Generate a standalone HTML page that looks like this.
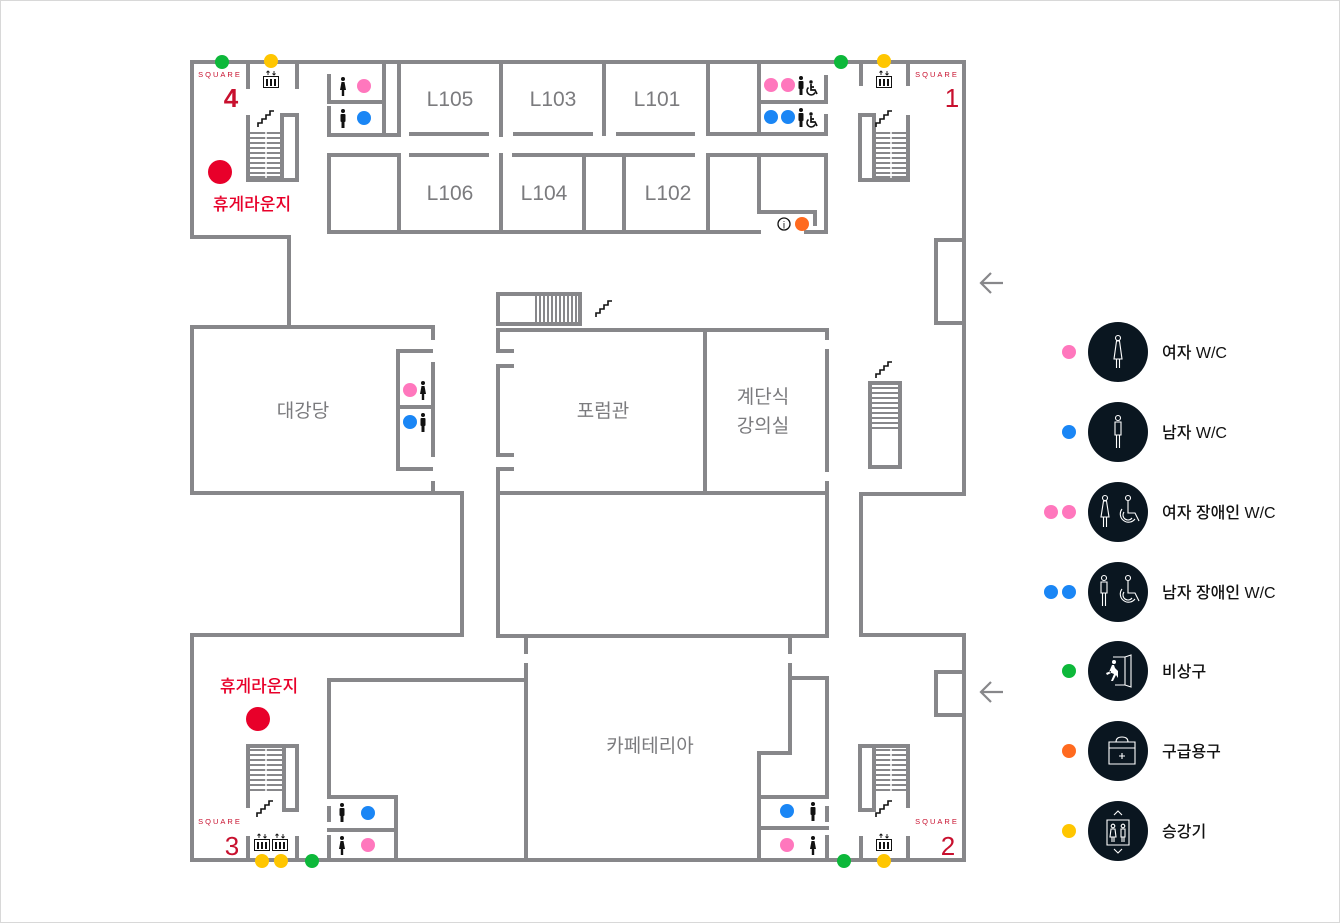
<!DOCTYPE html>
<html><head><meta charset="utf-8"><style>
html,body{margin:0;padding:0;background:#fff;}
svg{display:block;}
text{font-family:"Liberation Sans","Noto Sans CJK KR",sans-serif;}
</style></head><body>
<svg width="1340" height="923" viewBox="0 0 1340 923" xmlns="http://www.w3.org/2000/svg">
<defs>
<g id="stairicon"><path d="M0,17 V13 H4 V9 H8 V5 H12 V1 H16" fill="none" stroke="#111" stroke-width="1.6"/></g>
<g id="elev"><rect x="0.5" y="6.5" width="15" height="11" fill="#fff" stroke="#111" stroke-width="1"/>
<rect x="3" y="9" width="2" height="7" fill="#111"/><rect x="7" y="9" width="2" height="7" fill="#111"/><rect x="11" y="9" width="2" height="7" fill="#111"/>
<path d="M5,5 V1 M3.5,2.5 L5,1 L6.5,2.5 M11,1 V5 M9.5,3.5 L11,5 L12.5,3.5" fill="none" stroke="#111" stroke-width="0.9"/></g>
<g id="man"><circle cx="3" cy="2" r="2" fill="#111"/><rect x="0.5" y="5" width="5" height="8" rx="1" fill="#111"/><rect x="1.5" y="12" width="3" height="7" fill="#111"/></g>
<g id="woman"><circle cx="3" cy="2" r="2" fill="#111"/><path d="M1.5,5 H4.5 L6,13 H0 Z" fill="#111"/><rect x="1.8" y="12" width="2.4" height="7" fill="#111"/></g>
<g id="wheel"><circle cx="6" cy="2" r="1.7" fill="#111"/><path d="M6,4 V10 H10 L12,14 M6,7 H9" fill="none" stroke="#111" stroke-width="1.7"/><path d="M3.5,7.5 A4.2,4.2 0 1 0 10,12.5" fill="none" stroke="#111" stroke-width="1.5"/></g>
</defs>
<rect x="0.5" y="0.5" width="1339" height="922" fill="#fff" stroke="#d8d8d8"/>

<g fill="none" stroke="#87878a" stroke-width="4" stroke-linecap="square">
<path d="M192,62 H964 M192,62 V237 H289 V327 M192,327 H433 V338 M192,327 V493 H462 V635 H192 V860 H964 V635 H861 V494 H964 V62"/>
<path d="M964,240 H936 V323 H964 M964,672 H936 V715 H964"/>
<path d="M398,351 H431 M398,351 V469 H431 M398,407 H431 M433,364 V455 M433,483 V493"/>
<path d="M498,330 H827 V338 M827,351 V470 M827,483 V636 H498 V469 H512 M512,351 H498 V330 M512,366 H498 V455 H512 M705,330 V493 M498,493 H827"/>
<path d="M526,636 V652 M526,665 V860 M790,636 V652 M790,665 V678 H827 V797 H759 M790,678 V753 H759 V860 M759,828 H827 M827,808 V820 M827,837 V860"/>
<path d="M329,797 V680 H526 M329,797 H396 V860 M329,830 H396 M329,808 V820 M329,837 V860"/>
<path d="M248,62 V87 M297,62 V87 M861,62 V84 M908,62 V84 M248,838 V860 M297,838 V860 M861,838 V860 M908,838 V860"/>
<path d="M248,117 V180 H297 V115 H282 V180"/>
<path d="M908,117 V180 H860 V115 H874 V180"/>
<path d="M248,806 V746 H297 V810 H284 V746 M248,746 H297"/>
<path d="M908,806 V746 H860 V810 H874 V746"/>
<path d="M329,76 V102 H384 M329,108 V135 H399 M384,62 V135 M399,62 V135"/>
<path d="M411,134 H487 M501,62 V135 M515,134 H591 M604,62 V134 M618,134 H693 M708,62 V134 H826 M759,62 V134 M759,102 H826 M826,77 V102 M826,116 V134"/>
<path d="M329,155 H399 V232 M329,155 V232 H759 M411,155 H487 M501,155 V232 M514,155 H693 M584,155 V232 M624,155 V232 M708,155 H826 V232 H806 M708,155 V232 M759,155 V212 H815 V224"/>
<path d="M498,294 H580 V324 H498 Z M870,467 V383 H900 V467 Z"/>
</g>
<g stroke="#87878a" stroke-width="2">
<path d="M250,133 H282 M250,138 H282 M250,143 H282 M250,148 H282 M250,153 H282 M250,158 H282 M250,163 H282 M250,168 H282 M250,173 H282 M250,177 H282"/>
<path d="M876,133 H906 M876,138 H906 M876,143 H906 M876,148 H906 M876,153 H906 M876,158 H906 M876,163 H906 M876,168 H906 M876,173 H906 M876,177 H906"/>
<path d="M250,750 H282 M250,755 H282 M250,760 H282 M250,765 H282 M250,770 H282 M250,775 H282 M250,780 H282 M250,785 H282 M250,790 H282"/>
<path d="M876,750 H906 M876,755 H906 M876,760 H906 M876,765 H906 M876,770 H906 M876,775 H906 M876,780 H906 M876,785 H906 M876,790 H906"/>
<path d="M536,296 V322 M540,296 V322 M544,296 V322 M548,296 V322 M552,296 V322 M556,296 V322 M560,296 V322 M564,296 V322 M568,296 V322 M572,296 V322 M576,296 V322"/>
<path d="M872,388 H898 M872,393 H898 M872,398 H898 M872,403 H898 M872,408 H898 M872,413 H898 M872,418 H898 M872,423 H898 M872,428 H898"/>
</g>
<g stroke="#fff" stroke-width="1.5"><path d="M266,131 V178 M891,131 V178 M266,748 V792 M891,748 V792"/></g>

<use href="#stairicon" x="258" y="110"/><use href="#stairicon" x="876" y="110"/>
<use href="#stairicon" x="596" y="300"/><use href="#stairicon" x="876" y="361"/>
<use href="#stairicon" x="257" y="800"/><use href="#stairicon" x="876" y="800"/>
<use href="#elev" x="263" y="70"/><use href="#elev" x="876" y="70"/>
<use href="#elev" x="254" y="833"/><use href="#elev" x="272" y="833"/><use href="#elev" x="876" y="833"/>

<use href="#woman" x="340" y="77"/><circle cx="364" cy="86" r="7" fill="#ff77bd"/>
<use href="#man" x="340" y="109"/><circle cx="364" cy="118" r="7" fill="#1a86f5"/>
<circle cx="771" cy="85" r="7" fill="#ff77bd"/><circle cx="788" cy="85" r="7" fill="#ff77bd"/><use href="#man" x="798" y="76"/><use href="#wheel" x="805" y="80"/>
<circle cx="771" cy="117" r="7" fill="#1a86f5"/><circle cx="788" cy="117" r="7" fill="#1a86f5"/><use href="#man" x="798" y="108"/><use href="#wheel" x="805" y="112"/>
<circle cx="410" cy="390" r="7" fill="#ff77bd"/><use href="#woman" x="420" y="381"/>
<circle cx="410" cy="422" r="7" fill="#1a86f5"/><use href="#man" x="420" y="413"/>
<use href="#man" x="339" y="803"/><circle cx="368" cy="813" r="7" fill="#1a86f5"/>
<use href="#woman" x="339" y="836"/><circle cx="368" cy="845" r="7" fill="#ff77bd"/>
<circle cx="787" cy="811" r="7" fill="#1a86f5"/><use href="#man" x="810" y="802"/>
<circle cx="787" cy="845" r="7" fill="#ff77bd"/><use href="#woman" x="810" y="836"/>
<circle cx="784" cy="224" r="6" fill="#fff" stroke="#111" stroke-width="1.3"/><text x="784" y="228.5" font-size="10" text-anchor="middle" fill="#111">i</text>
<circle cx="802" cy="224" r="7" fill="#ff6a1f"/>

<circle cx="222" cy="62" r="7" fill="#0db83a"/><circle cx="271" cy="61" r="7" fill="#ffc600"/>
<circle cx="841" cy="62" r="7" fill="#0db83a"/><circle cx="884" cy="61" r="7" fill="#ffc600"/>
<circle cx="262" cy="861" r="7" fill="#ffc600"/><circle cx="281" cy="861" r="7" fill="#ffc600"/><circle cx="312" cy="861" r="7" fill="#0db83a"/>
<circle cx="844" cy="861" r="7" fill="#0db83a"/><circle cx="884" cy="861" r="7" fill="#ffc600"/>

<g fill="#c8102e">
<text x="220" y="77" font-size="7.5" letter-spacing="2" text-anchor="middle">SQUARE</text>
<text x="231" y="107" font-size="26" font-weight="bold" text-anchor="middle">4</text>
<text x="937" y="77" font-size="7.5" letter-spacing="2" text-anchor="middle">SQUARE</text>
<text x="952" y="107" font-size="26" text-anchor="middle">1</text>
<text x="220" y="824" font-size="7.5" letter-spacing="2" text-anchor="middle">SQUARE</text>
<text x="232" y="855" font-size="26" text-anchor="middle">3</text>
<text x="937" y="824" font-size="7.5" letter-spacing="2" text-anchor="middle">SQUARE</text>
<text x="948" y="855" font-size="26" text-anchor="middle">2</text>
</g>
<circle cx="220" cy="172" r="12" fill="#e8002a"/>
<text x="252" y="210" font-size="17" fill="#e8002a" text-anchor="middle" font-weight="500">휴게라운지</text>
<circle cx="258" cy="719" r="12" fill="#e8002a"/>
<text x="259" y="692" font-size="17" fill="#e8002a" text-anchor="middle" font-weight="500">휴게라운지</text>

<g fill="#7b7b7e" font-size="21" text-anchor="middle">
<text x="450" y="106">L105</text><text x="553" y="106">L103</text><text x="657" y="106">L101</text>
<text x="450" y="200">L106</text><text x="544" y="200">L104</text><text x="668" y="200">L102</text>
<text x="303" y="417" font-size="19">대강당</text>
<text x="603" y="417" font-size="19">포럼관</text>
<text x="763" y="403" font-size="19">계단식</text>
<text x="763" y="432" font-size="19">강의실</text>
<text x="650" y="752" font-size="19">카페테리아</text>
</g>

<g fill="none" stroke="#87878a" stroke-width="2.2">
<path d="M1003,283 H981 M991,273 L981,283 L991,293"/>
<path d="M1003,692 H981 M991,682 L981,692 L991,702"/>
</g>

<g fill="#0a1620"><circle cx="1118" cy="352" r="30"/><circle cx="1118" cy="432" r="30"/><circle cx="1118" cy="512" r="30"/><circle cx="1118" cy="592" r="30"/><circle cx="1118" cy="671" r="30"/><circle cx="1118" cy="751" r="30"/><circle cx="1118" cy="831" r="30"/></g>
<g fill="none" stroke="#fff" stroke-width="1.1">
<circle cx="1118" cy="338" r="2.5"/><path d="M1116.5,341 H1119.5 L1122,359 H1114 Z M1116.5,359 V368 M1119.5,359 V368"/>
<circle cx="1118" cy="418" r="2.5"/><path d="M1115,422 H1121 V435 H1115 Z M1116.5,435 V448 M1119.5,435 V448"/>
<circle cx="1105" cy="498" r="2.5"/><path d="M1103.5,501 H1106.5 L1109,517 H1101 Z M1103.5,517 V527 M1106.5,517 V527"/>
<circle cx="1128" cy="498" r="2.5"/><path d="M1128,501 V513 H1135 L1139,521 M1122,509 A8,8 0 1 0 1135,519 M1124,512 A5,5 0 1 0 1132,518"/>
<circle cx="1104" cy="578" r="2.5"/><path d="M1101,582 H1107 V593 H1101 Z M1102.5,593 V606 M1105.5,593 V606"/>
<circle cx="1128" cy="578" r="2.5"/><path d="M1128,581 V593 H1135 L1139,601 M1122,589 A8,8 0 1 0 1135,599 M1124,592 A5,5 0 1 0 1132,598"/>
<path d="M1113,657 H1125 V685 H1115 M1125,657 L1131,655 V687 L1125,685"/>
<path d="M1109,742 H1135 V764 H1109 Z M1109,748 H1135 M1116,742 Q1116,737 1122,737 Q1128,737 1128,742 M1122,753 V759 M1119,756 H1125"/>
<path d="M1107,820 H1129 V845 H1107 Z M1114,815 L1118,811 L1122,815 M1114,849 L1118,853 L1122,849"/>
<circle cx="1113" cy="826" r="1.8"/><circle cx="1123" cy="826" r="1.8"/><path d="M1111,829 H1115 L1116,837 H1110 Z M1121,829 H1125 V837 H1121 Z M1112,837 V842 M1114,837 V842 M1122,837 V842 M1124,837 V842"/>
</g>
<g fill="#fff"><circle cx="1114" cy="662" r="2"/><path d="M1112,665 L1109,672 L1114,674 L1111,681 L1113,681 L1116,675 L1118,678 L1118,671 L1115,668 L1114,665 Z M1106,673 L1111,671 L1111,673 L1107,675 Z"/></g>
<circle cx="1069" cy="352" r="7" fill="#ff77bd"/>
<circle cx="1069" cy="432" r="7" fill="#1a86f5"/>
<circle cx="1051" cy="512" r="7" fill="#ff77bd"/><circle cx="1069" cy="512" r="7" fill="#ff77bd"/>
<circle cx="1051" cy="592" r="7" fill="#1a86f5"/><circle cx="1069" cy="592" r="7" fill="#1a86f5"/>
<circle cx="1069" cy="671" r="7" fill="#0db83a"/>
<circle cx="1069" cy="751" r="7" fill="#ff6a1f"/>
<circle cx="1069" cy="831" r="7" fill="#ffc600"/>
<g fill="#111" font-size="16" font-weight="500">
<text x="1162" y="358">여자 W/C</text>
<text x="1162" y="438">남자 W/C</text>
<text x="1162" y="518">여자 장애인 W/C</text>
<text x="1162" y="598">남자 장애인 W/C</text>
<text x="1162" y="677">비상구</text>
<text x="1162" y="757">구급용구</text>
<text x="1162" y="837">승강기</text>
</g>
</svg>
</body></html>
